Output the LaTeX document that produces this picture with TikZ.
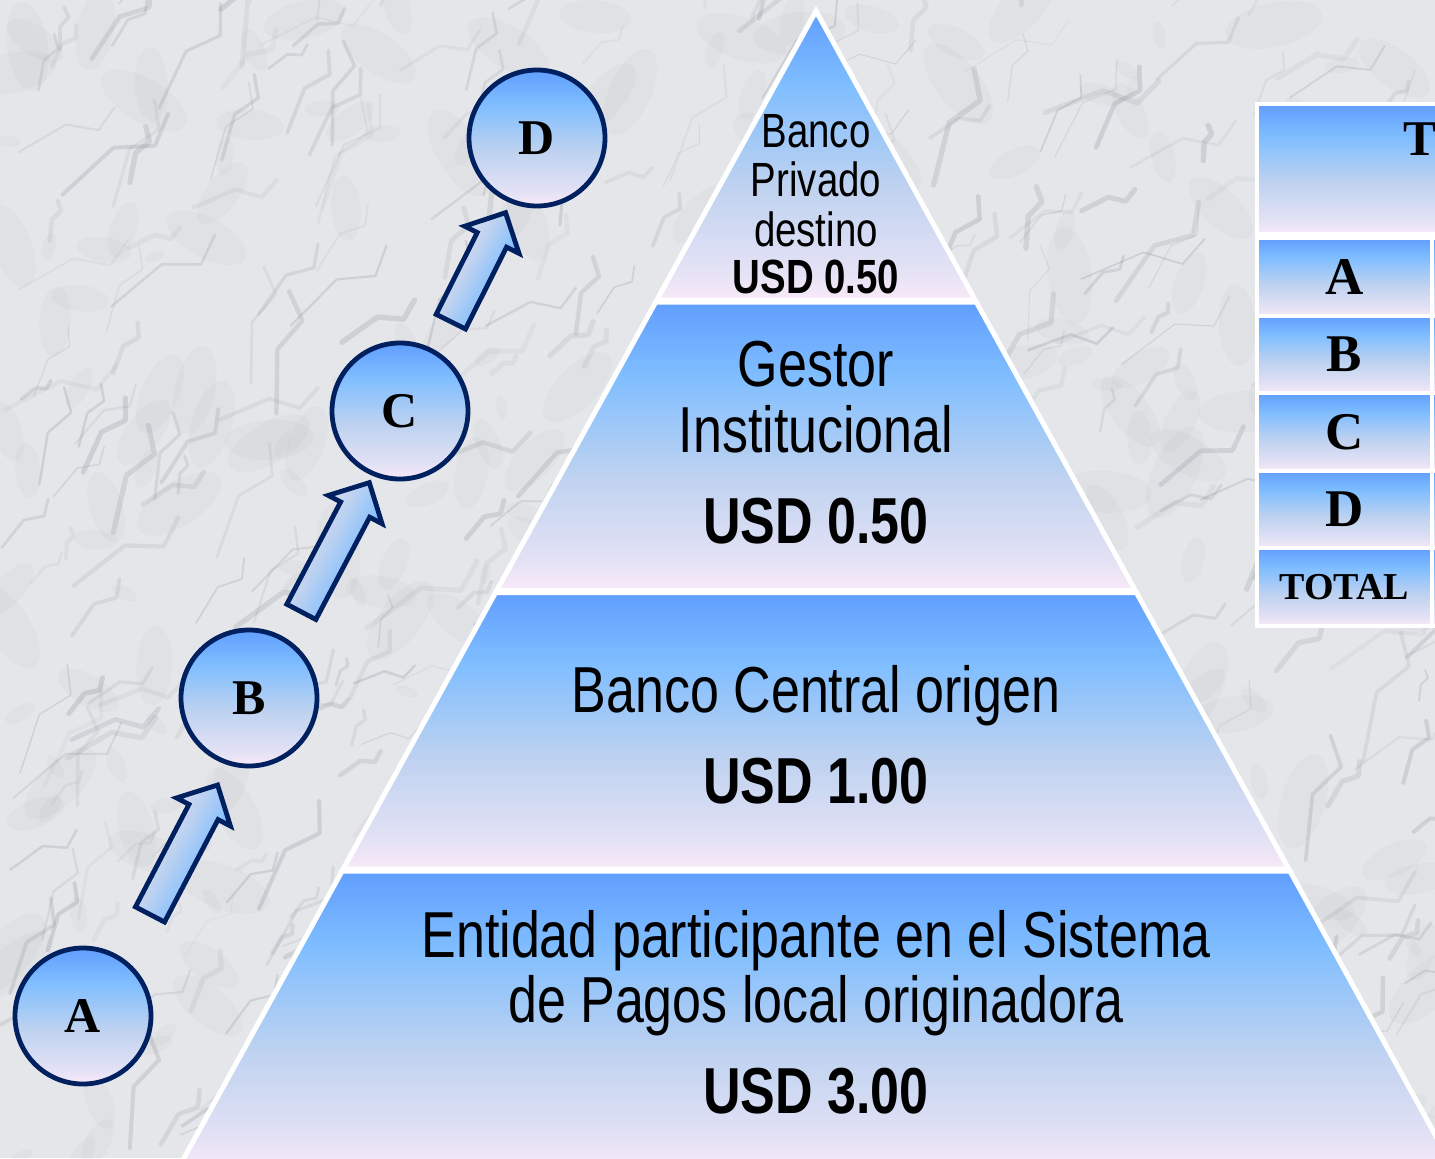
\documentclass[tikz,border=0pt]{standalone}
\usepackage{fontspec}
\setmainfont{Liberation Serif}
\newfontfamily\narrowsans[FakeStretch=0.8]{Liberation Sans}
\usetikzlibrary{shapes.arrows}
\usetikzlibrary{calc}

\definecolor{pptblue}{RGB}{96,158,255}
\definecolor{pptlight}{RGB}{128,190,255}
\definecolor{pptgrey}{RGB}{190,210,240}
\definecolor{pptlav}{RGB}{228,226,245}
\definecolor{pptpink}{RGB}{249,233,248}
\definecolor{navy}{RGB}{0,32,96}
\definecolor{marble}{RGB}{228,230,233}
\definecolor{vein}{RGB}{120,124,132}

\pgfdeclareverticalshading{ppt}{100bp}{color(0bp)=(pptpink); color(25bp)=(pptpink); color(30bp)=(pptlav); color(45bp)=(pptgrey); color(62bp)=(pptlight); color(75bp)=(pptblue); color(100bp)=(pptblue)}

\newcommand{\tiername}{\narrowsans\fontsize{32.5}{32.5}\selectfont}
\newcommand{\tierprice}{\narrowsans\bfseries\fontsize{32.5}{32.5}\selectfont}
\newcommand{\topname}{\narrowsans\fontsize{24}{24}\selectfont}
\newcommand{\topprice}{\narrowsans\bfseries\fontsize{24}{24}\selectfont}

\tikzset{
	tier/.style={
		shading=ppt,
		draw=white,
		line width=2.5pt,
		line join=miter
	},
	stage/.style={
		circle,
		minimum size=68pt,
		inner sep=0pt,
		shading=ppt,
		draw=navy,
		line width=2.4pt,
		font=\fontsize{25}{25}\selectfont\bfseries
	},
	barrow/.style={
		single arrow,
		minimum height=73pt,
		minimum width=0pt,
		inner xsep=0pt,
		inner ysep=7pt,
		single arrow head extend=7pt,
		shading=ppt,
		shading angle=-118,
		draw=navy,
		line width=2.4pt,
		line join=miter
	},
	cell/.style={
		rectangle,
		anchor=north west,
		inner sep=0pt,
		shading=ppt,
		draw=white,
		line width=2pt
	}
}

\begin{document}
\begin{tikzpicture}[x=0.5pt,y=-0.5pt]
	\useasboundingbox (0,0) rectangle (1435,1158);
	\clip (0,0) rectangle (1435,1158);

	% marble background
	\fill[marble] (0,0) rectangle (1435,1158);
	\pgfmathsetseed{42}
	\foreach \i in {1,...,320}{
		\pgfmathsetmacro{\px}{rnd*1435}
		\pgfmathsetmacro{\py}{rnd*1158}
		\pgfmathsetmacro{\pr}{10+rnd*40}
		\pgfmathsetmacro{\pa}{rnd*180}
		\fill[vein, opacity=0.045, rotate around={\pa:(\px,\py)}] (\px,\py) ellipse[x radius=\pr, y radius=0.45*\pr];
	}
	\foreach \i in {1,...,420}{
		\pgfmathsetmacro{\px}{rnd*1435}
		\pgfmathsetmacro{\py}{rnd*1158}
		\pgfmathsetmacro{\pa}{-20-rnd*70}
		\pgfmathsetmacro{\pl}{15+rnd*55}
		\pgfmathsetmacro{\pw}{0.5+rnd*2.2}
		\pgfmathsetmacro{\po}{0.06+rnd*0.16}
		\draw[vein, opacity=\po, line width=\pw pt, line cap=round, line join=round]
			(\px,\py) -- ++(\pa:\pl) -- ++(\pa+40:0.6*\pl) -- ++(\pa-25:0.5*\pl);
	}

	% pyramid
	\path[tier] (816,11) -- (975.2,300) -- (656.8,300) -- cycle;
	\path[tier] (655.7,302) -- (976.3,302) -- (1135.3,590.5) -- (496.7,590.5) -- cycle;
	\path[tier] (495.6,592.5) -- (1136.4,592.5) -- (1288.8,869) -- (343.2,869) -- cycle;
	\path[tier] (342.1,871) -- (1289.9,871) -- (1454.6,1170) -- (177.4,1170) -- cycle;

	\node[anchor=base, inner sep=0pt, font=\topname] (bp1) at (816,147) {Banco};
	\node[anchor=base, inner sep=0pt, font=\topname] (bp2) at (816,196) {Privado};
	\node[anchor=base, inner sep=0pt, font=\topname] (bp3) at (816,246) {destino};
	\node[anchor=base, inner sep=0pt, font=\topprice] (bpusd) at (816,293) {USD 0.50};

	\node[anchor=base, inner sep=0pt, font=\tiername] (gi1) at (816,386) {Gestor};
	\node[anchor=base, inner sep=0pt, font=\tiername] (gi2) at (816,452) {Institucional};
	\node[anchor=base, inner sep=0pt, font=\tierprice] (giusd) at (816,543) {USD 0.50};

	\node[anchor=base, inner sep=0pt, font=\tiername] (bc1) at (816,712) {Banco Central origen};
	\node[anchor=base, inner sep=0pt, font=\tierprice] (bcusd) at (816,803) {USD 1.00};

	\node[anchor=base, inner sep=0pt, font=\tiername] (ep1) at (816,957) {Entidad participante en el Sistema};
	\node[anchor=base, inner sep=0pt, font=\tiername] (ep2) at (816,1022) {de Pagos local originadora};
	\node[anchor=base, inner sep=0pt, font=\tierprice] (epusd) at (816,1113) {USD 3.00};

	% steps
	\node[stage] (A) at (83,1016) {A};
	\node[stage] (B) at (249,698) {B};
	\node[stage] (C) at (400,411) {C};
	\node[stage] (D) at (537,138) {D};

	\path ([xshift=7pt]A.center) -- ([xshift=7pt]B.center) node[pos=.5, sloped, barrow] (ab) {};
	\path ([xshift=3.5pt]B.center) -- ([xshift=3.5pt]C.center) node[pos=.5, sloped, barrow] (bc) {};
	\path ([xshift=3pt]C.center) -- ([xshift=3pt]D.center) node[pos=.5, sloped, barrow, minimum height=61pt] (cd) {};

	% table
	\node[cell, minimum width=130pt, minimum height=65pt] (hdr) at (1255,102) {};
	\node[anchor=base west, inner sep=0pt, font=\fontsize{25}{25}\selectfont\bfseries] (hdrT) at (1403,155) {T};
	\foreach \r/\txt/\sz [count=\k from 0] in {A/A/26.5,B/B/26.5,C/C/26.5,D/D/26.5,T/TOTAL/19}{
		\node[cell, minimum width=87.5pt, minimum height=38.75pt] (row\r) at (1255,{236+\k*77.5}) {};
		\node[cell, minimum width=60pt, minimum height=38.75pt] (val\r) at (1430,{236+\k*77.5}) {};
		\node[font=\fontsize{\sz}{\sz}\selectfont\bfseries] (lbl\r) at (row\r) {\txt};
	}
\end{tikzpicture}
\end{document}
